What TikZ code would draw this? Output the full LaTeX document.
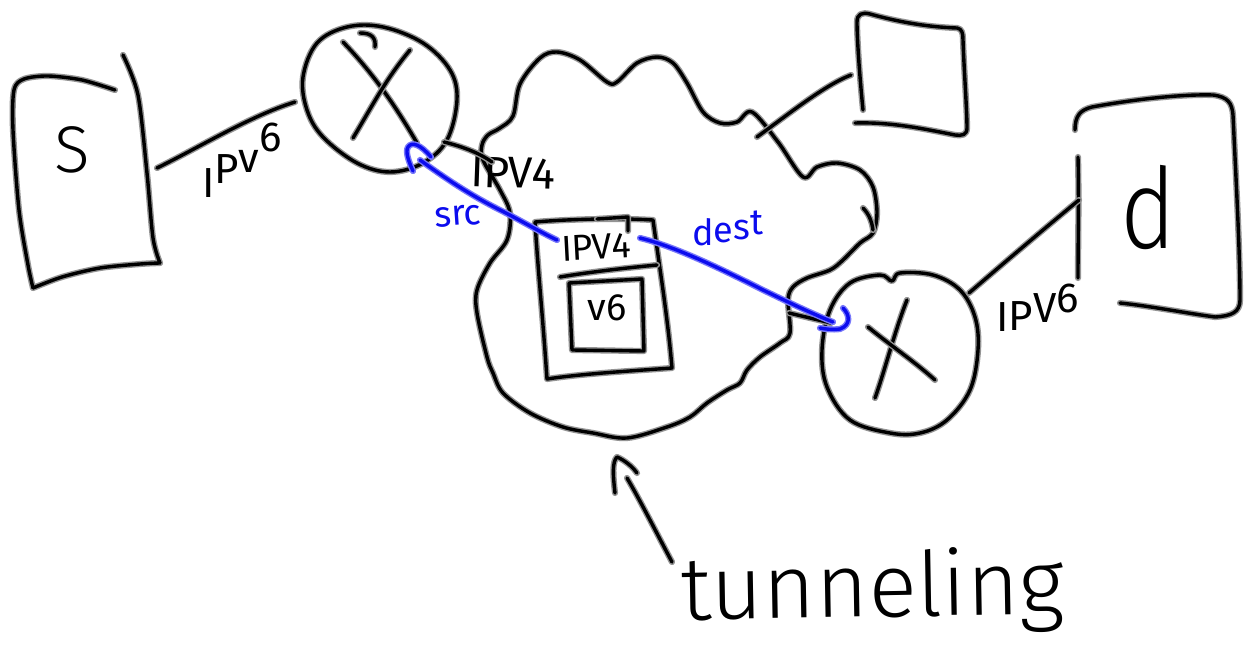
\documentclass[tikz,border=0pt]{standalone}
\usepackage{fontspec}
\setmainfont{Fira Sans Light}
\newfontfamily\labelfont{Fira Sans}
\definecolor{inkblue}{RGB}{12,12,238}
\definecolor{haloblue}{RGB}{120,120,250}
\tikzset{
  ink/.style={draw=black, line width=3.4pt, line cap=round, line join=round,
    preaction={draw=black!42, line width=6.2pt, line cap=round, line join=round}},
  blueink/.style={draw=inkblue, line width=3.4pt, line cap=round, line join=round,
    preaction={draw=haloblue, line width=6.2pt, line cap=round, line join=round}},
  hand/.style={inner sep=0pt, font=\fontsize{#1}{#1}\selectfont},
  tag/.style={inner sep=0pt, font=\labelfont\fontsize{#1}{#1}\selectfont},
}
\begin{document}
\begin{tikzpicture}[x=1pt,y=-1pt]
\useasboundingbox (0,0) rectangle (1254,669);
\fill[white] (0,0) rectangle (1254,669);

% ---- source host s
\draw[ink] plot[smooth,tension=0.5] coordinates {(115,90) (82,80) (48,76) (24,79) (14,90) (13,130) (19,210) (28,265) (33,288)}
           plot[smooth,tension=0.5] coordinates {(33,288) (62,277) (100,268) (140,264) (160,263)}
           plot[smooth,tension=0.5] coordinates {(160,263) (153,238) (147,173) (138,95) (123,55)};
\node[hand=66] (s) at (72,150) {S};

% ---- first router (tilted ellipse with a cross)
\draw[ink] plot[smooth cycle,tension=0.6] coordinates {(317,43) (347,27) (383,27) (423,43) (450,70) (457,100) (447,140) (423,163) (390,172) (357,163) (323,137) (307,110) (303,77)};
\draw[ink] (360,33) .. controls (372,33) and (376,38) .. (375,47);
\draw[ink] (343,42) .. controls (372,72) and (395,105) .. (417,143);
\draw[ink] (410,50) .. controls (385,80) and (370,110) .. (353,138);

% ---- s to first router
\coordinate (s-e) at (157,168);
\coordinate (r1-w) at (295,102);
\draw[ink] (s-e) .. controls (200,147) and (250,116) .. (r1-w);
\node[tag=42, anchor=base west] (v6a) at (202,197)
  {I\raisebox{14pt}{P}\raisebox{25pt}{v}\raisebox{46pt}{6}};

% ---- IPv4 cloud
\draw[ink] plot[smooth cycle,tension=0.55] coordinates {
  (500,128) (513,116) (520,84) (540,58) (557,52) (580,60) (607,82) (617,82) (637,63)
  (657,57) (673,63) (687,83) (703,112) (720,123) (737,122) (752,112) (778,142) (803,177)
  (817,167) (837,163) (860,170) (873,187) (877,213) (873,233) (860,243) (843,260)
  (830,270) (807,278) (793,287) (788,300) (790,333) (780,343) (760,357) (747,370)
  (740,383) (727,390) (707,403) (690,417) (667,427) (627,438) (593,433) (563,427)
  (530,413) (503,393) (493,373) (487,357) (477,313) (477,290) (490,263) (507,240)
  (510,213) (500,190) (483,160) (482,145) (488,135)};
\draw[ink] (863,208) .. controls (869,214) and (872,222) .. (873,230);
\node[tag=44, rotate=-2] (v4a) at (513,173) {IPV4};

% ---- first router to cloud
\coordinate (r1-se) at (444,142);
\coordinate (cl-w) at (492,162);
\draw[ink] (r1-se) .. controls (460,146) and (478,152) .. (cl-w);

% ---- encapsulated packet
\draw[ink] (535,222) .. controls (570,219) and (620,218) .. (653,220)
           .. controls (660,270) and (668,320) .. (672,368)
           .. controls (630,371) and (580,374) .. (547,379)
           .. controls (543,320) and (538,270) .. (535,222);
\draw[ink] (597,219) -- (628,217) -- (628,231);
\draw[ink] (560,277) .. controls (590,272) and (625,268) .. (657,265);
\draw[ink] (569,283) -- (642,279) -- (644,351) -- (572,350) -- cycle;
\node[tag=36, rotate=3] (v4b) at (596,247) {IPV4};
\node[tag=38] (v6b) at (607,308) {v6};

% ---- unattached host top right
\draw[ink] (863,110) .. controls (860,80) and (857,40) .. (857,22)
           .. controls (857,14) and (862,12) .. (870,14)
           .. controls (895,21) and (925,27) .. (957,28)
           .. controls (962,29) and (963,33) .. (963,40)
           .. controls (964,70) and (967,110) .. (967,128)
           .. controls (967,135) and (962,136) .. (955,135)
           .. controls (920,128) and (890,122) .. (855,123);
\coordinate (cl-ne) at (757,137);
\coordinate (h-w) at (851,75);
\draw[ink] (cl-ne) .. controls (790,113) and (825,85) .. (h-w);

% ---- second router
\draw[ink] plot[smooth cycle,tension=0.6] coordinates {(822,350) (830,310) (850,283) (880,275) (892,281) (900,273) (933,275) (960,290) (975,317) (978,350) (970,390) (947,420) (920,433) (890,433) (850,420) (827,387)};
\draw[ink] (907,300) .. controls (895,330) and (885,370) .. (875,398);
\draw[ink] (868,327) .. controls (890,345) and (915,362) .. (935,380);
\coordinate (cl-e) at (789,313);
\coordinate (r2-w) at (831,323);
\draw[ink] (cl-e) -- (r2-w);

% ---- destination host d
\draw[ink] (1075,130) .. controls (1075,116) and (1080,110) .. (1092,107)
           .. controls (1130,100) and (1180,94) .. (1213,95)
           .. controls (1228,97) and (1232,103) .. (1233,115)
           .. controls (1236,180) and (1240,250) .. (1240,300)
           .. controls (1240,312) and (1232,316) .. (1215,317)
           .. controls (1185,313) and (1150,306) .. (1120,303);
\draw[ink] (1078,157) .. controls (1079,200) and (1078,240) .. (1078,278);
\node[hand=112, xscale=0.85] (d) at (1148,208) {d};
\coordinate (r2-ne) at (969,293);
\coordinate (d-w) at (1079,200);
\draw[ink] (r2-ne) .. controls (1005,262) and (1045,228) .. (d-w);
\node[tag=42, anchor=base west] (v6c) at (996,331)
  {I\raisebox{1pt}{P}\raisebox{9pt}{V}\raisebox{19pt}{6}};

% ---- tunnel endpoints (blue)
\coordinate (pk-w) at (557,240);
\coordinate (r1-in) at (420,160);
\draw[blueink] (pk-w) .. controls (540,232) and (520,220) .. (500,210)
               .. controls (470,195) and (445,178) .. (r1-in);
\draw[blueink] (413,171) .. controls (409,162) and (405,152) .. (408,147)
               .. controls (412,141) and (421,145) .. (431,157);
\node[tag=36, text=inkblue, rotate=4] (src) at (458,216) {src};

\coordinate (pk-e) at (640,238);
\coordinate (r2-in) at (833,322);
\draw[blueink] (pk-e) .. controls (665,244) and (700,258) .. (763,290)
               .. controls (790,303) and (815,315) .. (r2-in);
\draw[blueink] (843,308) .. controls (850,315) and (851,325) .. (840,329)
               .. controls (832,330) and (825,329) .. (820,328);
\node[tag=36, text=inkblue, anchor=base west] (dest) at (692,245)
  {d\raisebox{3pt}{e}\raisebox{6pt}{s}\raisebox{11pt}{t}};

% ---- tunneling label
\node[hand=90, anchor=base, rotate=1] (tun) at (873,617) {tunneling};
\coordinate (tun-tail) at (672,562);
\coordinate (tun-tip) at (627,478);
\draw[ink] (tun-tail) .. controls (655,530) and (640,500) .. (tun-tip);
\draw[ink] (615,493) .. controls (613,475) and (612,462) .. (617,457)
           .. controls (624,460) and (632,466) .. (637,473);
\end{tikzpicture}
\end{document}
